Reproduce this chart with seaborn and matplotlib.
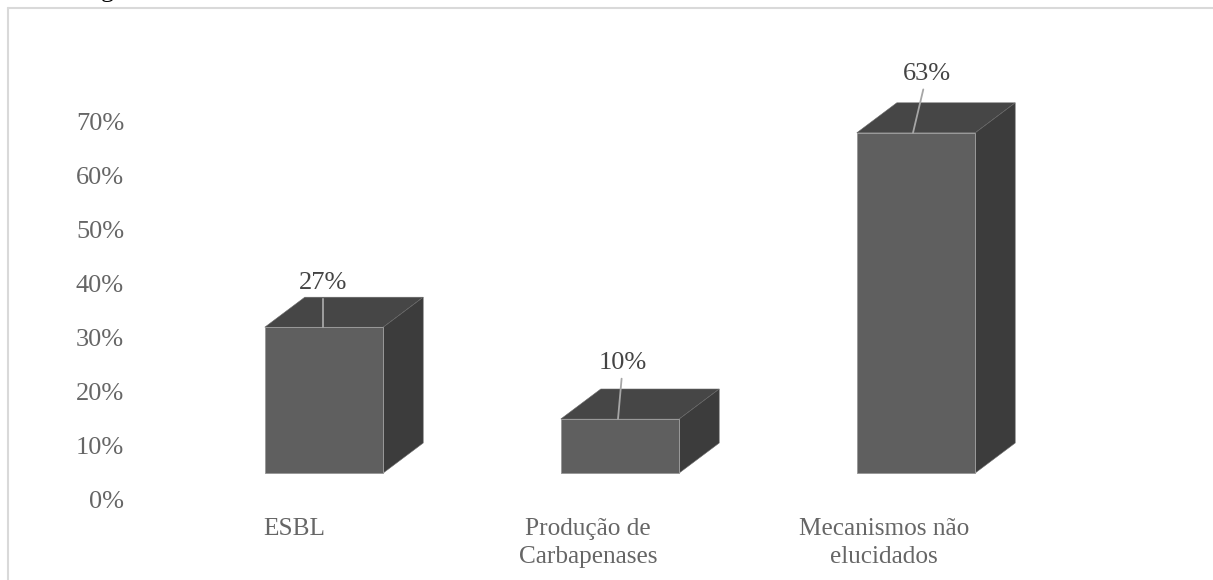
import matplotlib
matplotlib.use("Agg")
import matplotlib.pyplot as plt
from matplotlib.lines import Line2D
from matplotlib.patches import Polygon
from matplotlib.transforms import ScaledTranslation
import pandas as pd
import seaborn as sns

categories = ["ESBL", "Produção de\nCarbapenases", "Mecanismos não\nelucidados"]
values = [27, 10, 63]
y_ticks = [0, 10, 20, 30, 40, 50, 60, 70]

W, H, DPI = 1213, 580, 100
sns.set_theme(style="white")
plt.rcParams["font.family"] = ["Liberation Serif", "DejaVu Serif"]

FRONT, TOP, SIDE = "#5f5f5f", "#464646", "#3c3c3c"
EDGE = "#999999"
FS = 19

fig = plt.figure(figsize=(W / DPI, H / DPI), dpi=DPI, facecolor="white")
ax = fig.add_axes([176 / W, 1 - 473 / H, 888 / W, 405 / H])
df = pd.DataFrame({"cat": categories, "val": values})
sns.barplot(data=df, x="cat", y="val", color=FRONT, saturation=1, width=0.4,
            ax=ax, linewidth=0.7, edgecolor=EDGE, zorder=3)
ax.set_xlim(-0.5, 2.5)
ax.set_ylim(0, 75)
ax.set_xlabel("")
ax.set_ylabel("")
for s in ax.spines.values():
    s.set_visible(False)
ax.patch.set_visible(False)

px_x = 888 / 3
px_y = 405 / 75
dx, dy = 40 / px_x, 30 / px_y

for p in ax.patches:
    p.set_clip_on(False)
    x0, w, h = p.get_x(), p.get_width(), p.get_height()
    x1 = x0 + w
    ax.add_patch(Polygon([(x0, h), (x1, h), (x1 + dx, h + dy), (x0 + dx, h + dy)],
                         closed=True, facecolor=TOP, edgecolor="#6a6a6a", linewidth=0.4,
                         zorder=2, clip_on=False))
    ax.add_patch(Polygon([(x1, 0), (x1 + dx, dy), (x1 + dx, h + dy), (x1, h)],
                         closed=True, facecolor=SIDE, edgecolor="#6a6a6a", linewidth=0.4,
                         zorder=2, clip_on=False))

# value labels with leader lines (pixel offsets from the front-top edge centre)
label_off = [(-1, 44), (3, 56), (11, 59)]
foot_off = [-1, -2, -3]
for i, (v, (ox, oy), f) in enumerate(zip(values, label_off, foot_off)):
    ax.annotate(f"{v}%", xy=(i + f / px_x, v), xytext=(ox - f, oy),
                textcoords="offset pixels",
                ha="center", va="center", fontsize=FS, color="#444444",
                annotation_clip=False, zorder=5,
                arrowprops=dict(arrowstyle="-", color="#a6a6a6", lw=1.3,
                                shrinkA=1, shrinkB=0))

# tick labels
ax.set_yticks(y_ticks)
ax.set_yticklabels([f"{t}%" for t in y_ticks], fontsize=FS, color="#666666")
ax.tick_params(axis="both", length=0)
ax.tick_params(axis="y", pad=52 * 72 / DPI)
ax.set_xticks(range(len(categories)))
ax.set_xticklabels(categories, fontsize=18.2, color="#666666", linespacing=1.38)
ax.tick_params(axis="x", pad=45 * 72 / DPI)

y_shift = ScaledTranslation(0, -26 / DPI, fig.dpi_scale_trans)
for lab in ax.get_yticklabels():
    lab.set_transform(lab.get_transform() + y_shift)
x_offsets = [-30, -32, -32]
for lab, o in zip(ax.get_xticklabels(), x_offsets):
    lab.set_transform(lab.get_transform() + ScaledTranslation(o / DPI, 0, fig.dpi_scale_trans))

# outer frame of the embedded chart
frame = "#d9d9d9"
fig.add_artist(Line2D([8 / W, 1], [1 - 8 / H, 1 - 8 / H], color=frame, lw=1.5))
fig.add_artist(Line2D([8 / W, 8 / W], [0, 1 - 8 / H], color=frame, lw=1.5))

# descender of the cropped caption line above the chart
fig.text(107 / W, 1 + 2.7 / H, "g", ha="center", va="baseline", fontsize=18.7, color="black")

fig.savefig("out.png", dpi=DPI)
